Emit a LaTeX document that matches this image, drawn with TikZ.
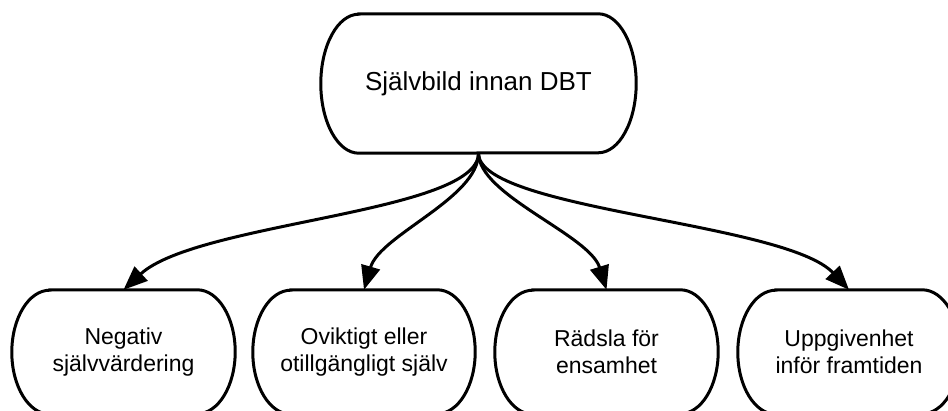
\documentclass[tikz,border=0pt]{standalone}
\usepackage{fontspec}
\setmainfont{Liberation Sans}
\usetikzlibrary{arrows.meta,calc}
\tikzset{
  boxnode/.style={rectangle, inner sep=0pt, align=center},
  boxline/.style={line width=3pt, draw=black},
  link/.style={line width=3pt, -{Triangle[length=24pt,width=19pt]}},
}
% \stadiumbox{name}{rx}{half height}
\newcommand{\stadiumbox}[3]{%
  \draw[boxline] ([xshift=#2]#1.north west) -- ([xshift=-#2]#1.north east)
    arc[start angle=90,end angle=-90,x radius=#2,y radius=#3]
    -- ([xshift=#2]#1.south west)
    arc[start angle=270,end angle=90,x radius=#2,y radius=#3] -- cycle;}
\begin{document}
\begin{tikzpicture}[x=1pt,y=1pt]
\useasboundingbox (0,0) rectangle (948,-411);
\node[boxnode, minimum width=315pt, minimum height=139pt,
      font=\fontsize{26}{30}\selectfont] (top) at (478.5,-83.5) {Självbild innan DBT};
\stadiumbox{top}{38pt}{69.5pt}
\node[boxnode, minimum width=223pt, minimum height=124pt,
      font=\fontsize{23}{26.5}\selectfont] (a) at (123.5,-352) {Negativ\\självvärdering};
\node[boxnode, minimum width=222pt, minimum height=124pt,
      font=\fontsize{23}{26.5}\selectfont] (b) at (364,-352) {Oviktigt eller\\otillgängligt själv};
\node[boxnode, minimum width=223pt, minimum height=124pt,
      font=\fontsize{23}{26.5}\selectfont] (c) at (606.5,-352) {Rädsla för\\ensamhet};
\node[boxnode, minimum width=222pt, minimum height=124pt,
      font=\fontsize{23}{26.5}\selectfont] (d) at (849,-352) {Uppgivenhet\\inför framtiden};
\stadiumbox{a}{38pt}{62pt}
\stadiumbox{b}{38pt}{62pt}
\stadiumbox{c}{38pt}{62pt}
\stadiumbox{d}{38pt}{62pt}
\draw[link] (top.south) .. controls ($(top.south)+(0,-60)$) and ($(a.north)+(74,68)$) .. (a.north);
\draw[link] (top.south) .. controls ($(top.south)+(0,-45)$) and ($(b.north)+(16,55)$) .. (b.north);
\draw[link] (top.south) .. controls ($(top.south)+(0,-42)$) and ($(c.north)+(-17,55)$) .. (c.north);
\draw[link] (top.south) .. controls ($(top.south)+(0,-57)$) and ($(d.north)+(-64,68)$) .. (d.north);
\end{tikzpicture}
\end{document}
